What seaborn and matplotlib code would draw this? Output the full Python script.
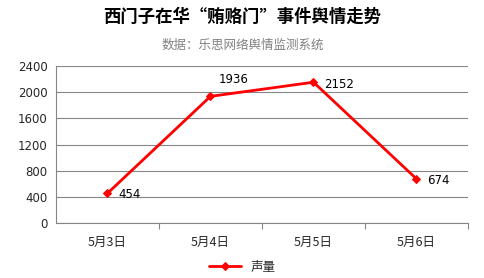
import matplotlib
matplotlib.use("Agg")
import matplotlib.pyplot as plt
import seaborn as sns
import pandas as pd

categories = ["5月3日", "5月4日", "5月5日", "5月6日"]
values = [454, 1936, 2152, 674]
series_name = "声量"
yticks = [0, 400, 800, 1200, 1600, 2000, 2400]

sns.set_style("white")
plt.rcParams['font.family'] = ['Noto Sans CJK SC', 'DejaVu Sans']

df = pd.DataFrame({"date": categories, "value": values, "series": series_name})

fig = plt.figure(figsize=(4.85, 2.78), dpi=100)
ax = fig.add_axes([56/485, 1-223/278, (468-56)/485, (223-66)/278])

sns.lineplot(data=df, x="date", y="value", hue="series", palette=["#ff0000"],
             marker="D", markersize=4.5, markeredgecolor="#ff0000", linewidth=2,
             sort=False, ax=ax)

ax.set_xlim(-0.5, 3.5)
ax.set_ylim(0, 2400)
ax.set_yticks(yticks)
ax.set_yticklabels([str(v) for v in yticks], fontsize=8.5, family=['DejaVu Sans'])
ax.tick_params(axis='y', length=4, color='#868686', width=0.8, pad=2)
ax.tick_params(axis='x', which='major', length=0, pad=9, labelsize=9)
ax.set_xticks([0.5, 1.5, 2.5, 3.5], minor=True)
ax.tick_params(axis='x', which='minor', length=4, color='#868686', width=0.8, bottom=True)
ax.grid(axis='y', color='#868686', linewidth=0.8)
ax.set_axisbelow(True)
for s in ['top', 'right']:
    ax.spines[s].set_visible(False)
for s in ['left', 'bottom']:
    ax.spines[s].set_color('#868686')
    ax.spines[s].set_linewidth(0.8)
ax.set_xlabel("")
ax.set_ylabel("")

offsets = [(8, -1), (6, 12), (8, -1.5), (8, -1)]
for i, (v, off) in enumerate(zip(values, offsets)):
    ax.annotate(str(v), (i, v), xytext=off, textcoords='offset points',
                fontsize=8.5, family=['DejaVu Sans'], va='center', ha='left', color='#000000')

leg = ax.legend(loc='center', frameon=False, fontsize=9, handlelength=2.5)
leg.set_bbox_to_anchor((0.5, 1-267/278), transform=fig.transFigure)

fig.text(0.5, 1-17/278, "西门子在华“贿赂门”事件舆情走势", ha='center', va='center',
         fontsize=12.5, fontweight='bold', color='#000000')
fig.text(0.5, 1-45/278, "数据：乐思网络舆情监测系统", ha='center', va='center',
         fontsize=9, color='#808080')

fig.savefig("out.png", dpi=100)
